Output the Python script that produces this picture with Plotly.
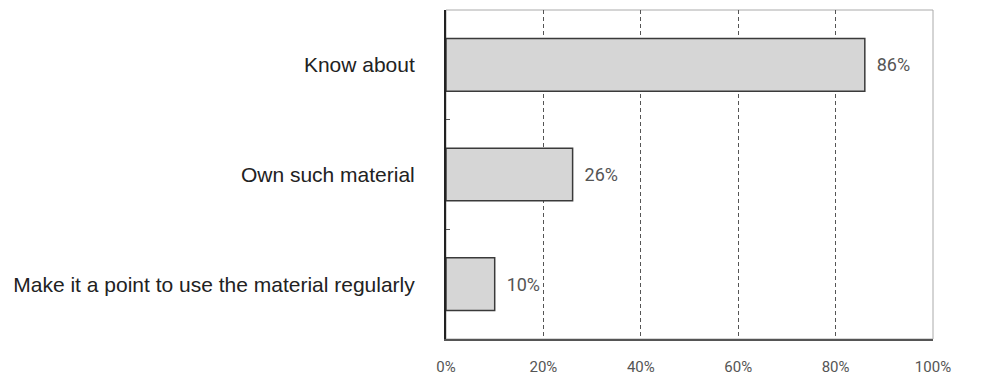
import plotly.graph_objects as go

categories = ["Know about", "Own such material", "Make it a point to use the material regularly"]
values = [86, 26, 10]
labels = ["86%", "26%", "10%"]
x_ticks = [0, 20, 40, 60, 80, 100]
x_tick_text = ["0%", "20%", "40%", "60%", "80%", "100%"]

narrow = "Roboto, sans-serif"

fig = go.Figure(go.Bar(
    x=values, y=categories, orientation="h",
    marker=dict(color="#d6d6d6", line=dict(color="#3a3a3a", width=1.5)),
    width=0.48,
    text=labels, texttemplate="  %{text}", textposition="outside",
    textfont=dict(family=narrow, size=18, color="#555555"),
    cliponaxis=False,
))

fig.update_layout(
    width=1008, height=380,
    margin=dict(l=446, r=75, t=10, b=41, autoexpand=False),
    plot_bgcolor="white", paper_bgcolor="white",
    showlegend=False,
    shapes=[dict(type="rect", xref="paper", yref="paper", x0=0, x1=1, y0=0, y1=1,
                 line=dict(color="#aaaaaa", width=1), layer="below")],
    xaxis=dict(
        range=[0, 100], tickvals=x_ticks, ticktext=x_tick_text,
        showgrid=True, gridcolor="#555555", griddash="4px,3px", gridwidth=1,
        zeroline=False, showline=True, linecolor="#555555", linewidth=1.5,
        tickfont=dict(family=narrow, size=15, color="#555555"),
        ticks="", ticklabelstandoff=13, automargin=False,
    ),
    yaxis=dict(
        autorange="reversed",
        showline=True, linecolor="#222222", linewidth=2,
        ticks="inside", tickson="boundaries", ticklen=4, tickcolor="#555555",
        tickfont=dict(family="Liberation Sans", size=21, color="#222222"),
        ticklabelstandoff=25, showgrid=False, automargin=False,
    ),
    bargap=0.52,
)

fig.write_html("out.html")
